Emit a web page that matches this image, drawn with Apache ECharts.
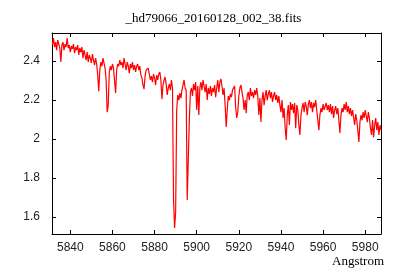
<!DOCTYPE html>
<html>
<head>
<meta charset="utf-8">
<script src="https://cdn.jsdelivr.net/npm/echarts@6/dist/echarts.min.js"></script>
<style>html,body{margin:0;padding:0;background:#fff}#c{width:400px;height:280px}</style>
</head>
<body>
<div id="c"></div>
<script>
// Spectrum sampling grid (as in FITS header: start wavelength and step, Angstrom)
const waveStart = 5831.5;
const waveStep = 0.5;
// Flux values
const flux = [
2.482,2.518,2.472,2.497,2.456,2.508,2.487,2.467,2.395,2.482,
2.497,2.456,2.487,2.472,2.518,2.467,2.482,2.446,2.477,2.462,
2.487,2.441,2.472,2.456,2.482,2.431,2.467,2.446,2.472,2.415,
2.456,2.431,2.405,2.446,2.395,2.431,2.415,2.390,2.436,2.405,
2.379,2.415,2.385,2.328,2.246,2.354,2.395,2.374,2.415,2.390,
2.364,2.303,2.138,2.174,2.344,2.374,2.354,2.385,2.364,2.374,
2.236,2.354,2.385,2.374,2.405,2.379,2.395,2.364,2.415,2.385,
2.354,2.395,2.374,2.338,2.385,2.364,2.395,2.354,2.379,2.344,
2.374,2.385,2.354,2.374,2.328,2.313,2.277,2.256,2.323,2.354,
2.344,2.364,2.333,2.303,2.323,2.292,2.333,2.313,2.277,2.328,
2.303,2.333,2.344,2.303,2.205,2.277,2.303,2.318,2.282,2.226,
2.262,2.282,2.251,2.303,2.262,1.687,1.544,1.626,2.149,2.226,
2.200,2.236,2.210,2.251,2.277,2.303,2.262,2.251,1.687,1.697,
2.097,2.241,2.262,2.221,2.282,2.251,2.292,2.149,2.272,2.123,
2.262,2.292,2.251,2.303,2.272,2.241,2.282,2.200,2.262,2.231,
2.272,2.221,2.262,2.241,2.277,2.215,2.262,2.303,2.241,2.292,
2.308,2.272,2.226,2.262,2.174,2.062,2.149,2.221,2.200,2.231,
2.215,2.251,2.241,2.272,2.159,2.108,2.138,2.221,2.262,2.277,
2.241,2.210,2.149,2.200,2.133,2.226,2.241,2.200,2.262,2.221,
2.241,2.210,2.251,2.226,2.262,2.221,2.123,2.210,2.087,2.200,
2.241,2.174,2.221,2.251,2.200,2.231,2.251,2.210,2.241,2.190,
2.221,2.241,2.200,2.226,2.185,2.221,2.174,2.138,2.200,2.108,
2.159,2.056,1.995,2.123,2.174,2.072,2.190,2.149,2.179,2.133,
2.185,2.056,2.174,2.149,2.072,2.021,2.123,2.159,2.185,2.138,
2.190,2.169,2.123,2.179,2.200,2.159,2.190,2.138,2.185,2.164,
2.200,2.149,2.097,2.046,2.123,2.159,2.138,2.179,2.149,2.169,
2.185,2.149,2.174,2.138,2.179,2.128,2.169,2.108,2.149,2.169,
2.128,2.159,2.097,2.031,2.123,2.159,2.138,2.179,2.149,2.190,
2.138,2.169,2.128,2.159,2.118,2.149,2.108,2.072,2.128,2.097,
2.046,1.985,2.087,2.123,2.097,2.138,2.108,2.149,2.118,2.087,
2.138,2.108,2.056,2.021,2.097,2.010,2.072,2.108,2.046,2.087,
2.021,2.072,2.046
];
const xTicks = [5840,5860,5880,5900,5920,5940,5960,5980];
const yTicks = [1.6,1.8,2,2.2,2.4];
const titleText = '_hd79066_20160128_002_38.fits';
const xLabel = 'Angstrom';

const data = flux.map((v, i) => [waveStart + i * waveStep, v]);

const chart = echarts.init(document.getElementById('c'), null, {renderer: 'canvas'});
const xMin = 5831.3, xMax = 5987.5, yMin = 1.513, yMax = 2.544;
const tickStyle = {color: '#000', width: 1};
const labelFont = {fontFamily: 'Liberation Sans', fontSize: 12, color: '#222'};
chart.setOption({
  animation: false,
  backgroundColor: '#fff',
  grid: {left: 52, right: 19, top: 33, bottom: 46},
  xAxis: [
    {type: 'value', min: xMin, max: xMax, position: 'bottom',
     axisLine: {show: true, lineStyle: tickStyle},
     axisTick: {show: true, inside: true, length: 4, customValues: xTicks, lineStyle: tickStyle},
     axisLabel: Object.assign({show: true, margin: 8, customValues: xTicks, formatter: v => String(v)}, labelFont),
     splitLine: {show: false}},
    {type: 'value', min: xMin, max: xMax, position: 'top',
     axisLine: {show: true, lineStyle: tickStyle},
     axisTick: {show: true, inside: true, length: 4, customValues: xTicks, lineStyle: tickStyle},
     axisLabel: {show: false},
     splitLine: {show: false}}
  ],
  yAxis: [
    {type: 'value', min: yMin, max: yMax, position: 'left',
     axisLine: {show: true, lineStyle: tickStyle},
     axisTick: {show: true, inside: true, length: 4, customValues: yTicks, lineStyle: tickStyle},
     axisLabel: Object.assign({show: true, margin: 12, customValues: yTicks, formatter: v => String(+v.toFixed(1))}, labelFont),
     splitLine: {show: false}},
    {type: 'value', min: yMin, max: yMax, position: 'right',
     axisLine: {show: true, lineStyle: tickStyle},
     axisTick: {show: true, inside: true, length: 4, customValues: yTicks, lineStyle: tickStyle},
     axisLabel: {show: false},
     splitLine: {show: false}}
  ],
  series: [{
    type: 'line', data: data, xAxisIndex: 0, yAxisIndex: 0,
    showSymbol: false, symbol: 'none',
    lineStyle: {color: '#ff0000', width: 1.2},
    clip: true
  }],
  graphic: [
    {type: 'text', x: 213.5, y: 19, style: {text: titleText, font: '13px "Liberation Serif"', fill: '#000', textAlign: 'center', textVerticalAlign: 'middle'}},
    {type: 'text', x: 384, y: 262, style: {text: xLabel, font: '13px "Liberation Serif"', fill: '#000', textAlign: 'right', textVerticalAlign: 'middle'}}
  ]
});
</script>
</body>
</html>
